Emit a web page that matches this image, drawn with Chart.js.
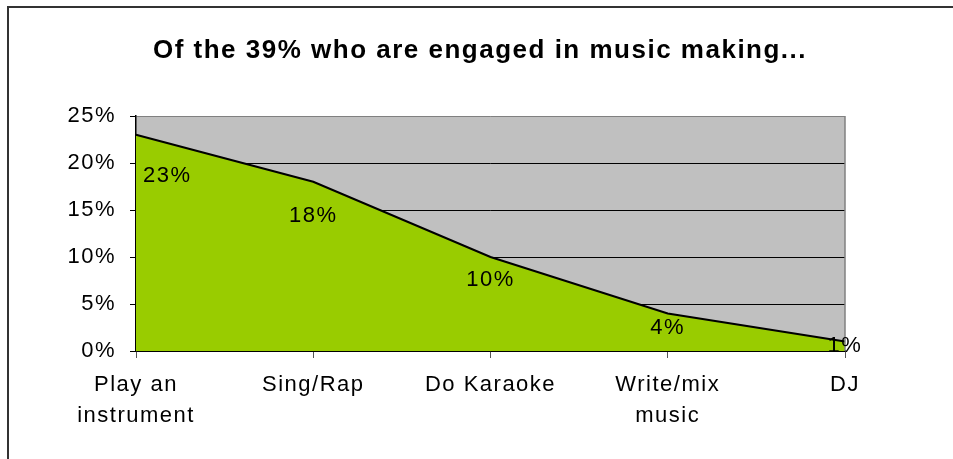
<!DOCTYPE html>
<html>
<head>
<meta charset="utf-8">
<script src="https://cdn.jsdelivr.net/npm/chart.js@4"></script>
<style>
html,body{margin:0;padding:0;background:#fff;}
canvas{display:block;}
</style>
</head>
<body>
<canvas id="c" width="953" height="459"></canvas>
<script>
const titleText = 'Of the 39% who are engaged in music making...';
const categories = [['Play an', 'instrument'], 'Sing/Rap', 'Do Karaoke', ['Write/mix', 'music'], 'DJ'];
const values = [23, 18, 10, 4, 1];
const yTicks = [0, 5, 10, 15, 20, 25];

const FONT = "'Liberation Sans', Arial, sans-serif";

const framePlugin = {
  id: 'frame',
  beforeDraw(chart) {
    const ctx = chart.ctx;
    const a = chart.chartArea;
    ctx.save();
    ctx.fillStyle = '#ffffff';
    ctx.fillRect(0, 0, chart.width, chart.height);
    ctx.fillStyle = '#C0C0C0';
    ctx.fillRect(a.left, a.top, a.right - a.left, a.bottom - a.top);
    ctx.restore();
    ctx.letterSpacing = '1.5px';
  },
  afterDraw(chart) {
    const ctx = chart.ctx;
    const a = chart.chartArea;
    ctx.save();
    // right plot border
    ctx.strokeStyle = '#808080';
    ctx.lineWidth = 1.5;
    ctx.beginPath();
    ctx.moveTo(a.right, a.top);
    ctx.lineTo(a.right, a.bottom);
    ctx.stroke();
    // outer frame
    ctx.strokeStyle = '#333333';
    ctx.lineWidth = 2;
    ctx.strokeRect(8, 7, 1200, 800);
    // title
    ctx.letterSpacing = '1.5px';
    ctx.fillStyle = '#000';
    ctx.font = 'bold 26px ' + FONT;
    ctx.textAlign = 'center';
    ctx.textBaseline = 'alphabetic';
    ctx.fillText(titleText, 480, 58);
    // data labels
    ctx.letterSpacing = '1.5px';
    ctx.font = '22px ' + FONT;
    ctx.textBaseline = 'middle';
    const meta = chart.getDatasetMeta(0);
    const ys = chart.scales.y;
    const zeroY = ys.getPixelForValue(0);
    meta.data.forEach((pt, i) => {
      const txt = values[i] + '%';
      const w = ctx.measureText(txt).width;
      const h = zeroY - pt.y;
      let y = pt.y + 0.15 * h + 9;
      y = Math.min(y, zeroY - 5);
      let x = pt.x;
      if (x - w / 2 < a.left + 7) x = a.left + 7 + w / 2;
      ctx.fillText(txt, x, y);
    });
    ctx.restore();
    ctx.letterSpacing = '0px';
  }
};

new Chart(document.getElementById('c'), {
  type: 'line',
  data: {
    labels: categories,
    datasets: [{
      data: values,
      borderColor: '#000000',
      borderWidth: 2,
      backgroundColor: '#99CC00',
      fill: 'origin',
      tension: 0,
      pointRadius: 0,
      pointHoverRadius: 0
    }]
  },
  options: {
    responsive: false,
    animation: false,
    events: [],
    layout: { padding: { top: 116, right: 108, left: 0, bottom: 0 } },
    plugins: {
      legend: { display: false },
      title: { display: false },
      tooltip: { enabled: false }
    },
    scales: {
      x: {
        offset: false,
        border: { display: true, color: '#000000', width: 1.5 },
        grid: {
          display: true,
          drawOnChartArea: false,
          tickLength: 7,
          tickColor: '#555555',
          tickWidth: 1
        },
        ticks: {
          color: '#000000',
          font: { family: FONT, size: 22, lineHeight: 1.4 },
          padding: 12,
          maxRotation: 0,
          autoSkip: false
        },
        afterFit(s) { s.height = 108; }
      },
      y: {
        min: 0,
        max: 25,
        afterBuildTicks(s) { s.ticks = yTicks.map(v => ({ value: v })); },
        border: { display: true, color: '#000000', width: 1.5 },
        grid: {
          color: ctx => (ctx.tick && ctx.tick.value === 25) ? '#808080' : '#000000',
          lineWidth: 1,
          tickLength: 6,
          tickColor: '#000000'
        },
        ticks: {
          color: '#000000',
          font: { family: FONT, size: 22 },
          padding: 14,
          callback: v => v + '%'
        },
        afterFit(s) { s.width = 136; }
      }
    }
  },
  plugins: [framePlugin]
});
</script>
</body>
</html>
